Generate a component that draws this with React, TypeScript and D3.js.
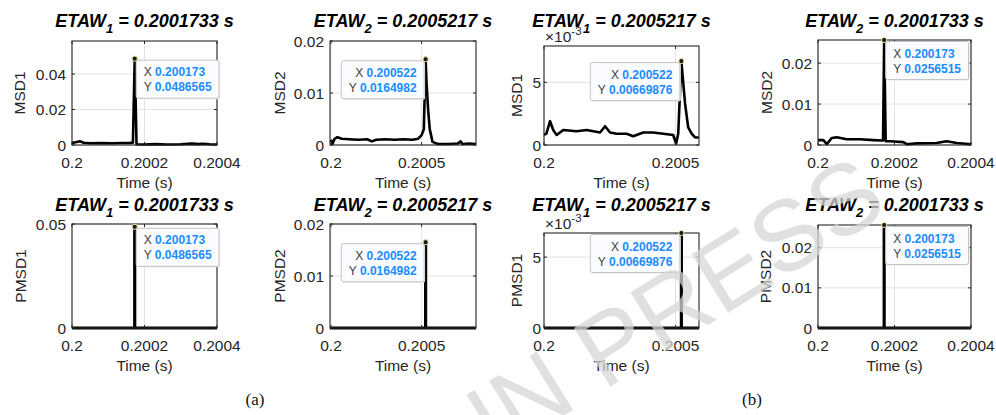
import React, { useEffect, useRef } from 'react';
import * as d3 from 'd3';

// MSD curves (top row)
const msd1aTime = [0.2, 0.20001, 0.200022, 0.200032, 0.20005, 0.20008, 0.20011, 0.20014, 0.20016, 0.200168, 0.200173, 0.200178, 0.2002, 0.20023, 0.20026, 0.2003, 0.20033, 0.20035, 0.20036, 0.20038, 0.2004];
const msd1aValue = [0.0012, 0.0015, 0.0021, 0.0013, 0.001, 0.0011, 0.001, 0.0011, 0.0012, 0.0013, 0.0486565, 0.0004, 0.0003, 0.0005, 0.0003, 0.0004, 0.0008, 0.0005, 0.0007, 0.0004, 0.0003];

const msd2aTime = [0.2, 0.200008, 0.20002, 0.200035, 0.20006, 0.2001, 0.20015, 0.2002, 0.200225, 0.20025, 0.2003, 0.20035, 0.2004, 0.20045, 0.20048, 0.2005, 0.200512, 0.200522, 0.200527, 0.200536, 0.200545, 0.20056, 0.20059, 0.20065, 0.2007, 0.200715, 0.200725, 0.20076, 0.2008];
const msd2aValue = [0.001, 0.0002, 0.0012, 0.0015, 0.0012, 0.0011, 0.001, 0.0011, 0.0007, 0.001, 0.0011, 0.001, 0.0011, 0.001, 0.0012, 0.0019, 0.003, 0.0164982, 0.012, 0.0067, 0.003, 0.0006, 0.0002, 0.0002, 0.0003, 0.0007, 0.0002, 0.0003, 0.0002];

const msd1bTime = [0.2, 0.200009, 0.200023, 0.200035, 0.200048, 0.200073, 0.200124, 0.200162, 0.200213, 0.200232, 0.200251, 0.200276, 0.200314, 0.200339, 0.200377, 0.200415, 0.200453, 0.200491, 0.200502, 0.20051, 0.200522, 0.200536, 0.200548, 0.200561, 0.200574, 0.200588];
const msd1bValue = [0.0008, 0.0009, 0.0019, 0.0012, 0.0008, 0.0012, 0.0011, 0.0012, 0.001, 0.0015, 0.001, 0.0009, 0.0009, 0.0007, 0.001, 0.001, 0.0009, 0.0008, 0.0001, 0.0009, 0.00669876, 0.0033, 0.0014, 0.0009, 0.0006, 0.0006];

const msd2bTime = [0.2, 0.200014, 0.200023, 0.200036, 0.200049, 0.200075, 0.20011, 0.200145, 0.200166, 0.20017, 0.200173, 0.200177, 0.200188, 0.200223, 0.200232, 0.200258, 0.20031, 0.200336, 0.200363, 0.2004];
const msd2bValue = [0.0012, 0.0012, 0.0002, 0.0017, 0.0019, 0.0014, 0.0014, 0.0012, 0.0011, 0.0011, 0.0256515, 0.0009, 0.0009, 0.0007, 0.0002, 0.0004, 0.0005, 0.0009, 0.0005, 0.0002];

// peaks (PMSD is zero except at the peak)
const peakTime = [0.200173, 0.200522, 0.200522, 0.200173];
const peakValue = [0.0486565, 0.0164982, 0.00669876, 0.0256515];
const peakXText = ['0.200173', '0.200522', '0.200522', '0.200173'];
const peakYText = ['0.0486565', '0.0164982', '0.00669876', '0.0256515'];

const etawIndex = ['1', '2', '1', '2'];
const etawValue = ['0.2001733', '0.2005217', '0.2005217', '0.2001733'];
const msdLabels = ['MSD1', 'MSD2', 'MSD1', 'MSD2'];
const pmsdLabels = ['PMSD1', 'PMSD2', 'PMSD1', 'PMSD2'];

const xDomains = [[0.2, 0.2004], [0.1999945, 0.2008], [0.2, 0.200589], [0.2, 0.2004]];
const xTicks = [[0.2, 0.2002, 0.2004], [0.2, 0.2005], [0.2, 0.2005], [0.2, 0.2002, 0.2004]];
const msdYMax = [0.0586, 0.02, 0.0079, 0.0256515];
const pmsdYMax = [0.05, 0.02, 0.00669876, 0.0256515];
const msdYTicks = [[0, 0.02, 0.04], [0, 0.01, 0.02], [0, 0.005], [0, 0.01, 0.02]];
const pmsdYTicks = [[0, 0.05], [0, 0.01, 0.02], [0, 0.005], [0, 0.01, 0.02]];
const yExponent = [0, 0, -3, 0];

// layout (pixels)
const colLeft = [72, 330, 544, 818];
const colRight = [217, 476, 699, 971];
const rowTop = [[41, 41, 46, 40], [224, 224, 233, 225]];
const rowBottom = [145, 328];
const titleY = [26.5, 210.5];
const yLabelOffset = [[47, 45, 22, 46], [46, 45, 22, 47]];
const tickGap = [6, 6, 3, 6];
const tipSide = ['right', 'left', 'left', 'right'];

const FONT = '"Liberation Sans", Arial, Helvetica, sans-serif';
const INK = '#262626';

const fmt = (v: number) => String(+v.toPrecision(6));

function drawPanel(svg: any, p: any) {
  const g = svg.append('g');
  const x = d3.scaleLinear().domain(p.xDomain).range([p.left, p.right]);
  const y = d3.scaleLinear().domain([0, p.yMax]).range([p.bottom, p.top]);

  // grid
  g.selectAll('.gx').data(p.xTicks).enter().append('line')
    .attr('x1', (d: number) => x(d)).attr('x2', (d: number) => x(d))
    .attr('y1', p.top).attr('y2', p.bottom)
    .attr('stroke', '#e3e3e3').attr('stroke-width', 1);
  g.selectAll('.gy').data(p.yTicks).enter().append('line')
    .attr('x1', p.left).attr('x2', p.right)
    .attr('y1', (d: number) => y(d)).attr('y2', (d: number) => y(d))
    .attr('stroke', '#e3e3e3').attr('stroke-width', 1);

  // series
  const pts = p.time.map((t: number, i: number) => [t, p.value[i]]);
  g.append('path')
    .datum(pts)
    .attr('fill', 'none')
    .attr('stroke', '#000')
    .attr('stroke-width', p.lineWidth)
    .attr('stroke-linejoin', 'round')
    .attr('d', d3.line().x((d: any) => x(d[0])).y((d: any) => y(d[1])));

  // box + inward ticks
  g.append('rect')
    .attr('x', p.left).attr('y', p.top)
    .attr('width', p.right - p.left).attr('height', p.bottom - p.top)
    .attr('fill', 'none').attr('stroke', INK).attr('stroke-width', 1.1);
  p.xTicks.forEach((t: number) => {
    g.append('line').attr('x1', x(t)).attr('x2', x(t)).attr('y1', p.bottom).attr('y2', p.bottom - 3).attr('stroke', INK);
    g.append('line').attr('x1', x(t)).attr('x2', x(t)).attr('y1', p.top).attr('y2', p.top + 3).attr('stroke', INK);
  });
  p.yTicks.forEach((t: number) => {
    g.append('line').attr('x1', p.left).attr('x2', p.left + 3).attr('y1', y(t)).attr('y2', y(t)).attr('stroke', INK);
    g.append('line').attr('x1', p.right).attr('x2', p.right - 3).attr('y1', y(t)).attr('y2', y(t)).attr('stroke', INK);
  });

  // tick labels
  g.selectAll('.tx').data(p.xTicks).enter().append('text')
    .attr('x', (d: number) => x(d)).attr('y', p.bottom + 22.5)
    .attr('text-anchor', 'middle')
    .attr('font-family', FONT).attr('font-size', 15.5).attr('fill', INK)
    .text((d: number) => fmt(d));
  const scale = Math.pow(10, p.exp);
  g.selectAll('.ty').data(p.yTicks).enter().append('text')
    .attr('x', p.left - p.gap).attr('y', (d: number) => y(d)).attr('dy', '0.36em')
    .attr('text-anchor', 'end')
    .attr('font-family', FONT).attr('font-size', 15.5).attr('fill', INK)
    .text((d: number) => fmt(d / scale));
  if (p.exp !== 0) {
    const e = g.append('text')
      .attr('x', p.left + 1).attr('y', p.top - 4.5)
      .attr('font-family', FONT).attr('font-size', 15.5).attr('fill', INK);
    e.append('tspan').text('\u00d710');
    e.append('tspan').attr('font-size', 11.5).attr('dy', -7).text(String(p.exp));
  }

  // axis labels
  g.append('text')
    .attr('x', (p.left + p.right) / 2).attr('y', p.bottom + 43)
    .attr('text-anchor', 'middle')
    .attr('font-family', FONT).attr('font-size', 15.5).attr('fill', INK)
    .text('Time (s)');
  g.append('text')
    .attr('transform', `translate(${p.left - p.yLabelOffset},${(p.top + p.bottom) / 2}) rotate(-90)`)
    .attr('text-anchor', 'middle')
    .attr('font-family', FONT).attr('font-size', 15.5).attr('fill', INK)
    .text(p.yLabel);

  // title
  const title = g.append('text')
    .attr('x', (p.left + p.right) / 2).attr('y', p.titleY)
    .attr('text-anchor', 'middle')
    .attr('font-family', FONT).attr('font-size', 18)
    .attr('font-weight', 'bold').attr('font-style', 'italic').attr('fill', '#000');
  title.append('tspan').text('ETAW');
  title.append('tspan').attr('font-size', 13).attr('dy', 6).text(p.etawIndex);
  title.append('tspan').attr('dy', -6).text(` = ${p.etawValue} s`);

  // data tip
  const px = x(p.peakT);
  const py = y(p.peakV);
  const tip = g.append('g');
  const lines = [['X', p.tipX], ['Y', p.tipY]];
  const texts = lines.map((l) => {
    const t = tip.append('text').attr('font-family', FONT).attr('font-size', 12);
    t.append('tspan').attr('fill', '#404040').text(l[0] + ' ');
    t.append('tspan').attr('fill', '#1a8cff').attr('font-weight', 'bold').text(l[1]);
    return t;
  });
  const w = d3.max(texts, (t: any) => (t.node() as SVGTextElement).getComputedTextLength()) || 60;
  const boxW = w + 15;
  const boxH = 38;
  const bx = p.side === 'right' ? px + 1.5 : px - 1.5 - boxW;
  const by = py + 1.5;
  tip.insert('rect', 'text')
    .attr('x', bx + 1).attr('y', by + 1).attr('width', boxW).attr('height', boxH)
    .attr('rx', 2).attr('fill', '#e8e8e8');
  tip.insert('rect', 'text')
    .attr('x', bx).attr('y', by).attr('width', boxW).attr('height', boxH)
    .attr('rx', 2).attr('fill', '#fbfcff').attr('stroke', '#c4c4c4').attr('stroke-width', 1);
  texts.forEach((t: any, i: number) => {
    t.attr('x', p.side === 'right' ? bx + 7.5 : bx + boxW - 7.5)
      .attr('y', by + 16 + i * 15)
      .attr('text-anchor', p.side === 'right' ? 'start' : 'end');
  });
  g.append('circle')
    .attr('cx', px).attr('cy', py).attr('r', 2.6)
    .attr('fill', '#1a1a1a').attr('stroke', '#f3e7a0').attr('stroke-width', 1);
}

export default function App() {
  const ref = useRef<SVGSVGElement>(null);

  useEffect(() => {
    if (!ref.current) return;
    const svg = d3.select(ref.current);
    svg.selectAll('*').remove();

    const msdTime = [msd1aTime, msd2aTime, msd1bTime, msd2bTime];
    const msdValue = [msd1aValue, msd2aValue, msd1bValue, msd2bValue];

    for (let c = 0; c < 4; c++) {
      const common = {
        xDomain: xDomains[c], xTicks: xTicks[c], exp: yExponent[c],
        left: colLeft[c], right: colRight[c], gap: tickGap[c],
        etawIndex: etawIndex[c], etawValue: etawValue[c],
        peakT: peakTime[c], peakV: peakValue[c],
        tipX: peakXText[c], tipY: peakYText[c], side: tipSide[c],
      };
      drawPanel(svg, {
        ...common,
        time: msdTime[c], value: msdValue[c], lineWidth: 2.6,
        yMax: msdYMax[c], yTicks: msdYTicks[c], yLabel: msdLabels[c],
        top: rowTop[0][c], bottom: rowBottom[0], titleY: titleY[0],
        yLabelOffset: yLabelOffset[0][c],
      });
      // PMSD: zero everywhere, single spike at the peak
      const [x0, x1] = xDomains[c];
      drawPanel(svg, {
        ...common,
        time: [x0, peakTime[c], peakTime[c], peakTime[c], x1],
        value: [0, 0, peakValue[c], 0, 0], lineWidth: 3.2,
        yMax: pmsdYMax[c], yTicks: pmsdYTicks[c], yLabel: pmsdLabels[c],
        top: rowTop[1][c], bottom: rowBottom[1], titleY: titleY[1],
        yLabelOffset: yLabelOffset[1][c],
      });
    }

    // sub-figure captions
    [['(a)', 255], ['(b)', 752]].forEach(([t, cx]) => {
      svg.append('text')
        .attr('x', cx as number).attr('y', 405)
        .attr('text-anchor', 'middle')
        .attr('font-family', '"Liberation Serif", "DejaVu Serif", serif')
        .attr('font-size', 17).attr('fill', '#111')
        .text(t as string);
    });

    // watermark
    svg.append('text')
      .attr('transform', 'translate(891,211) rotate(-32)')
      .attr('text-anchor', 'end')
      .attr('font-family', FONT).attr('font-size', 100)
      .attr('fill', '#d6d6d6').attr('opacity', 0.75)
      .text('IN PRESS');
  }, []);

  return (
    <svg
      ref={ref}
      width={996}
      height={415}
      style={{ position: 'absolute', left: 0, top: 0, background: '#fff' }}
    />
  );
}
